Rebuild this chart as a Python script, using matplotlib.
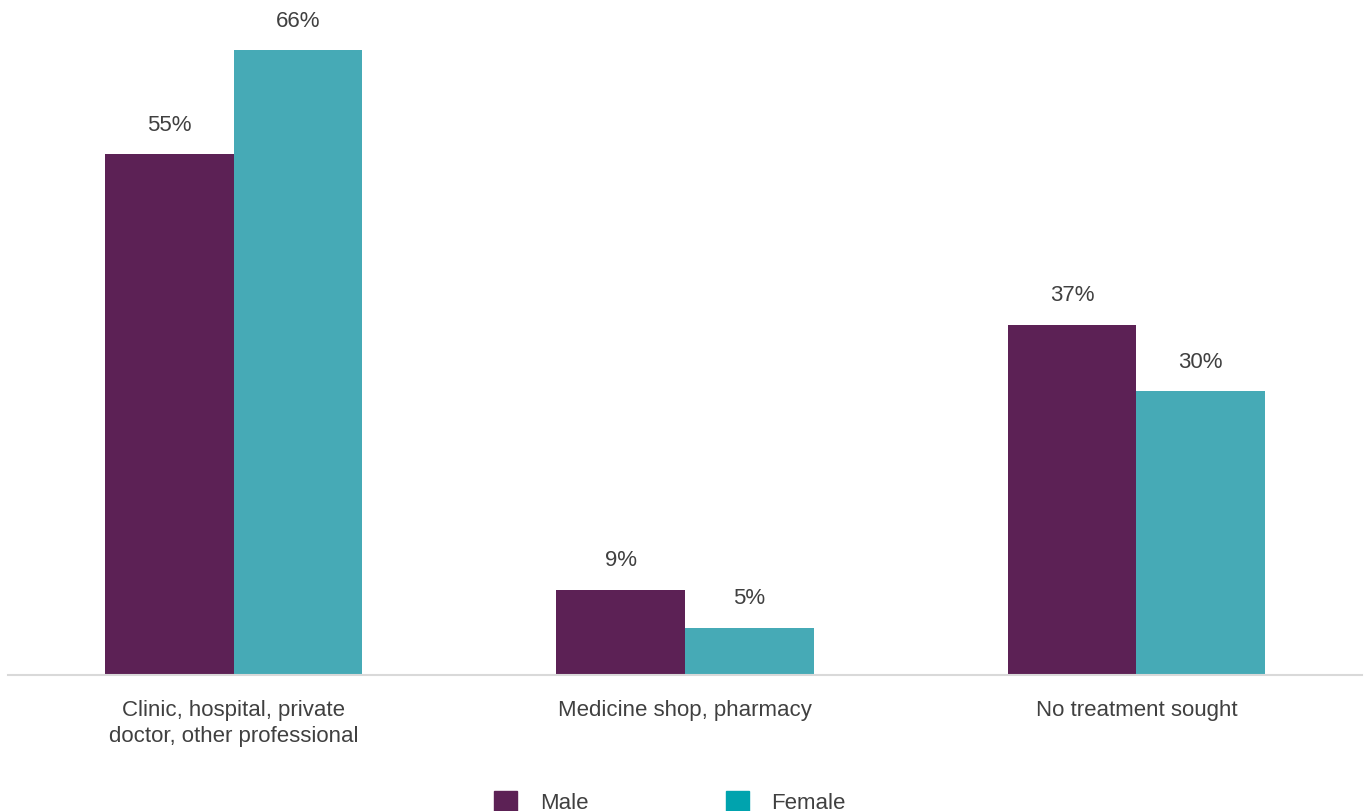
import matplotlib.pyplot as plt
import numpy as np
from matplotlib.patches import Patch

categories = ["Clinic, hospital, private\ndoctor, other professional",
              "Medicine shop, pharmacy",
              "No treatment sought"]
male = [55, 9, 37]
female = [66, 5, 30]

MALE_COLOR = "#5c2155"
FEMALE_COLOR = "#46aab6"
FEMALE_KEY = "#00a3ae"
TEXT_COLOR = "#404040"
FS = 16

plt.rcParams["font.family"] = ["Liberation Sans", "DejaVu Sans"]

fig = plt.figure(figsize=(13.66, 8.12), dpi=100)
ax = fig.add_axes([8 / 1366, 136 / 812, 1354 / 1366, 676 / 812])

x = np.arange(len(categories))
width = 0.285
b1 = ax.bar(x - width / 2, male, width, color=MALE_COLOR)
b2 = ax.bar(x + width / 2, female, width, color=FEMALE_COLOR)

for bars, vals in ((b1, male), (b2, female)):
    for rect, v in zip(bars, vals):
        ax.annotate(f"{v}%", (rect.get_x() + rect.get_width() / 2, v),
                    xytext=(0, 14), textcoords="offset points",
                    ha="center", va="bottom", fontsize=FS, color=TEXT_COLOR)

ax.set_xlim(-0.5, 2.5)
ax.set_ylim(0, 71.4)
ax.set_xticks(x)
ax.set_xticklabels(categories, fontsize=FS, color=TEXT_COLOR, linespacing=1.35)
ax.tick_params(axis="x", length=0, pad=17)
ax.set_yticks([])
for side in ("top", "right", "left"):
    ax.spines[side].set_visible(False)
ax.spines["bottom"].set_color("#d9d9d9")
ax.spines["bottom"].set_linewidth(1.5)

handles = [Patch(color=MALE_COLOR, label="Male"),
           Patch(color=FEMALE_KEY, label="Female")]
fig.legend(handles=handles, loc="center", bbox_to_anchor=(670 / 1366, 9 / 812),
           ncol=2, frameon=False, fontsize=FS, handlelength=1.04, handleheight=1.04,
           handletextpad=1.0, columnspacing=6.2, labelcolor=TEXT_COLOR,
           borderaxespad=0, borderpad=0)

fig.savefig("out.png", dpi=100)
